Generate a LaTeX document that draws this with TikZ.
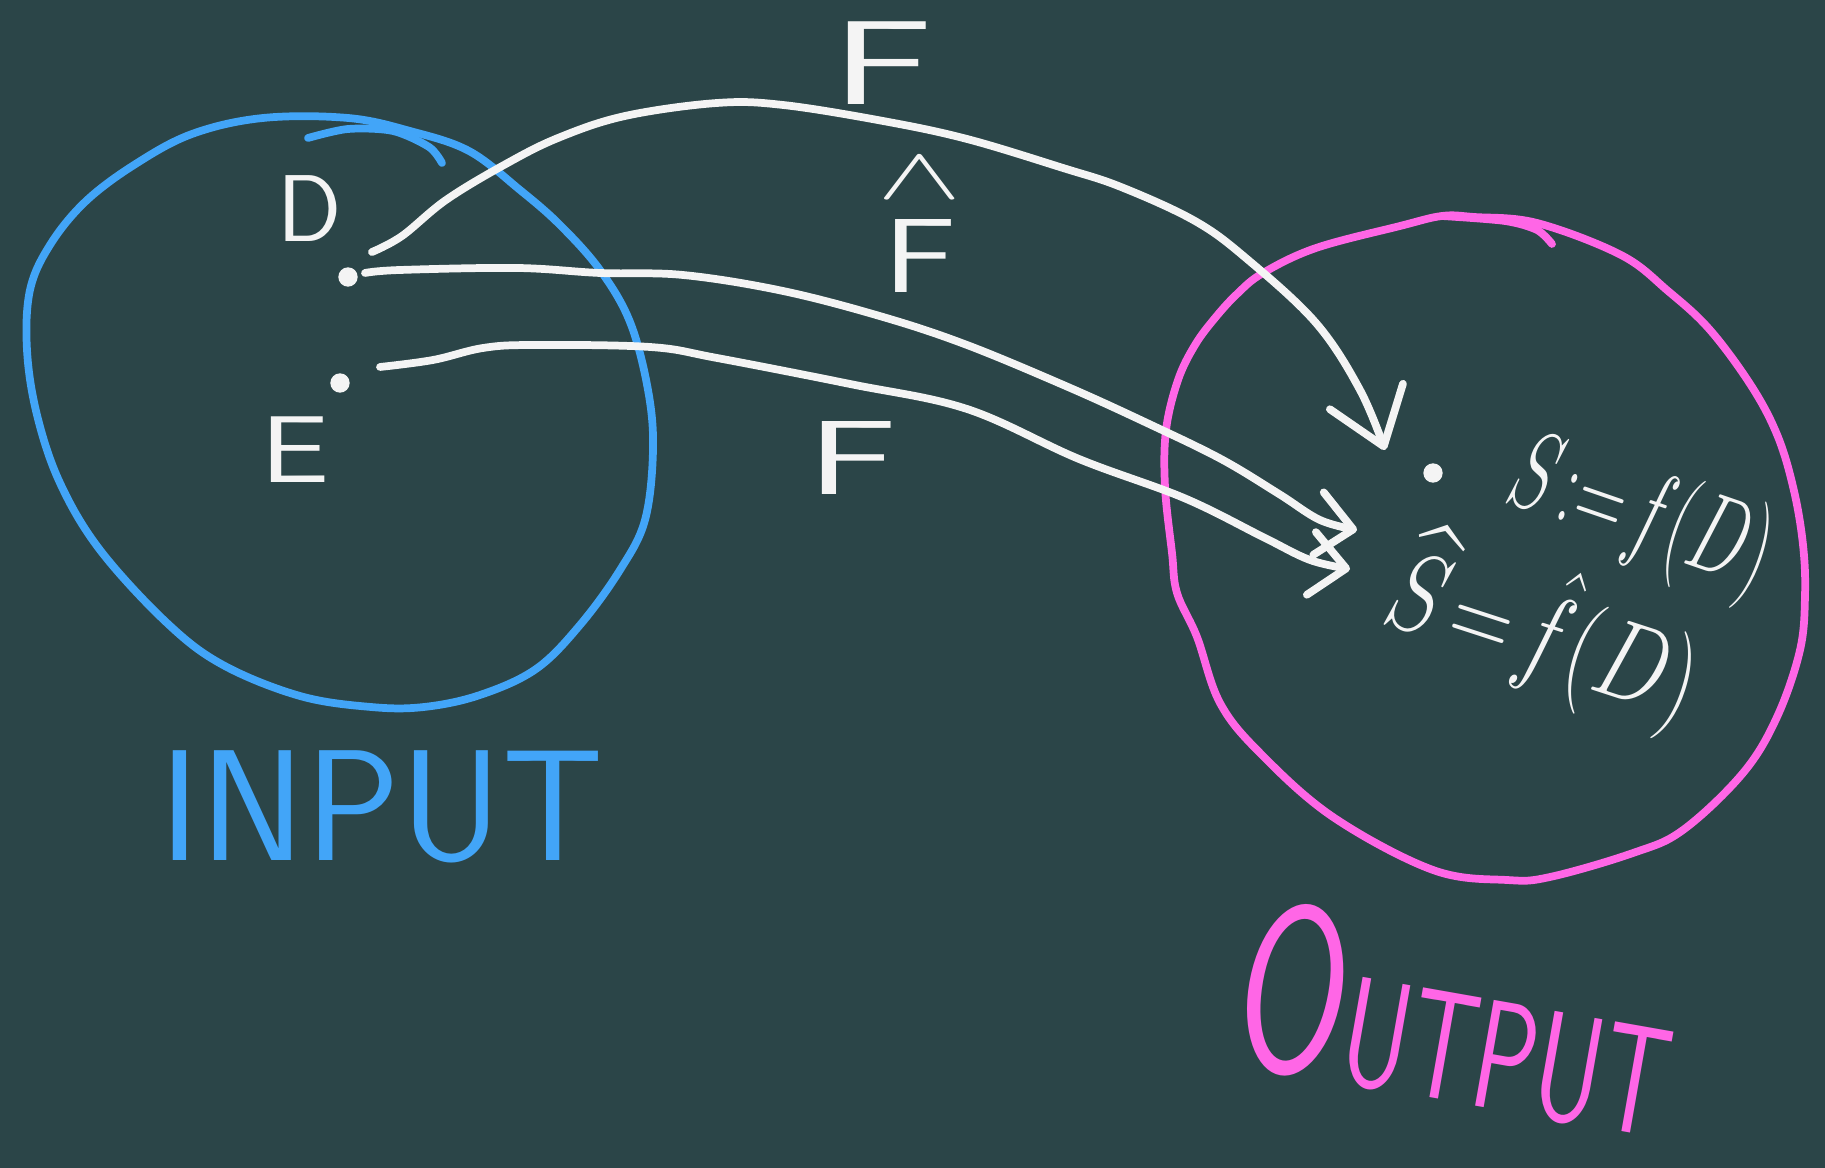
\RequirePackage{fix-cm}
\documentclass[tikz,border=0pt]{standalone}
\usepackage{amsmath, amssymb}
\usetikzlibrary{arrows.meta}

\definecolor{board}{HTML}{2B4548}
\definecolor{inblue}{HTML}{42A5F8}
\definecolor{outpink}{HTML}{FF66E6}
\definecolor{chalk}{HTML}{F4F4F4}
\newcommand{\squeeze}[2][0.7]{\scalebox{#1}[1]{#2}}

\begin{document}
\begin{tikzpicture}[x=0.01cm, y=-0.01cm,
  pen/.style={line width=2.2pt, line cap=round, line join=round},
  inset/.style={pen, draw=inblue},
  outset/.style={pen, draw=outpink},
  lbl/.style={text=chalk, inner sep=0pt, anchor=base, font=\sffamily\fontsize{30}{36}\selectfont},
  elem/.style={circle, fill=chalk, inner sep=0pt, minimum size=5.5pt},
  formula/.style={text=chalk, inner sep=0pt, font=\fontsize{32}{38}\selectfont},
  arr/.style={pen, draw=chalk, -{Straight Barb[length=15pt, width=22pt, round]}},
  sarr/.style={pen, draw=chalk, -{Straight Barb[length=10pt, width=18pt, round]}},
]
\useasboundingbox (0,0) rectangle (1825,1168);
\fill[board] (0,0) rectangle (1825,1168);

% Input set
\draw[inset] plot[smooth cycle, tension=0.6] coordinates {(263,118) (348,118) (410,131) (469,151) (520,190) (560,225) (600,270) (630,322) (648,390) (653,450) (645,520) (620,570) (580,625) (536,669) (480,695) (424,707) (371,707) (300,696) (223,665) (167,623) (100,550) (60,483) (37,415) (27,350) (30,290) (50,245) (85,202) (134,165) (192,134)};
\draw[inset] plot[smooth] coordinates {(308,138) (348,129) (393,131) (429,147) (442,163)};
\node[lbl, font=\sffamily\fontsize{27}{30}\selectfont] (D) at (310,242) {D};
\node[elem] (dotA) at (348,277) {};
\node[elem] (dotB) at (340,383) {};
\node[lbl, font=\sffamily\fontsize{27}{30}\selectfont] (E) at (295,483) {\scalebox{1.3}[1]{E}};
\node[text=inblue, anchor=base, inner sep=0pt, font=\sffamily\fontsize{45}{50}\selectfont] (input) at (382,860) {INPUT};

% Output set
\draw[outset] plot[smooth cycle, tension=0.6] coordinates {(1400,226) (1442,216) (1474,217) (1537,223) (1621,255) (1668,291) (1710,330) (1752,387) (1778,437) (1794,491) (1803,545) (1805,595) (1800,650) (1777,717) (1743,773) (1683,830) (1633,853) (1550,877) (1507,880) (1433,870) (1333,817) (1260,753) (1220,703) (1197,637) (1177,593) (1172,553) (1165,487) (1166,430) (1178,380) (1195,345) (1215,318) (1237,294) (1263,273) (1316,248)};
\draw[outset] plot[smooth] coordinates {(1442,216) (1505,221) (1537,230) (1552,244)};
\node[elem] (dotS) at (1433,473) {};
\node[formula, rotate=-19] (S) at (1640,518) {\squeeze[0.6]{$S\!:=\!f(D)$}};
\node[formula, rotate=-18] (Shat) at (1545,632) {\squeeze[0.76]{$\widehat{S}\!=\!\hat{f}(D)$}};
\node[text=outpink, anchor=base west, rotate=-10, inner sep=0pt] (output) at (1227,1062)
  {\sffamily\fontsize{68}{70}\selectfont\squeeze[0.66]{O}\fontsize{44}{48}\selectfont\squeeze[0.67]{UTPUT}};

% Maps
\coordinate (srcD) at (372,252);
\coordinate (srcA) at (365,273);
\coordinate (srcB) at (380,367);
\coordinate (tipS) at (1385,450);
\coordinate (tipA) at (1357,530);
\coordinate (tipB) at (1350,569);

\draw[arr] plot[smooth, tension=0.6] coordinates {(srcD) (402,236) (446,200) (504,165) (558,138) (625,116) (717,103) (783,105) (883,121) (967,139) (1063,168) (1121,187) (1195,221) (1247,259) (1316,323) (1360,390) (tipS)};
\draw[sarr] plot[smooth, tension=0.6] coordinates {(srcA) (400,270) (517,268) (600,273) (683,275) (783,291) (883,317) (967,345) (1068,387) (1147,423) (1221,459) (1279,494) (1320,520) (tipA)};
\draw[sarr] plot[smooth, tension=0.6] coordinates {(srcB) (433,360) (483,348) (533,345) (650,347) (717,358) (850,384) (967,409) (1079,459) (1184,498) (1263,537) (1310,560) (tipB)};

% Labels
\node[lbl, font=\sffamily\fontsize{34}{40}\selectfont] (Ftop) at (883,105) {\scalebox{1.6}[1]{F}};
\node[lbl] (Fhat) at (920,293) {$\overset{\scalebox{1.2}[0.7]{$\wedge$}}{\scalebox{1.3}[1]{$\mathsf{F}$}}$};
\node[lbl] (Flow) at (853,495) {\scalebox{1.6}[1]{F}};
\end{tikzpicture}
\end{document}
